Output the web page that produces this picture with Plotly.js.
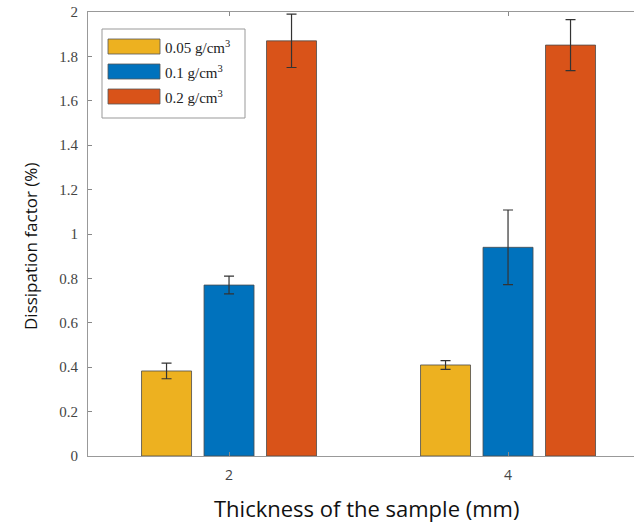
<!DOCTYPE html>
<html>
<head>
<meta charset="utf-8">
<script src="https://cdn.plot.ly/plotly-3.0.1.min.js"></script>
<style>html,body{margin:0;padding:0;background:#fff;}#chart{width:634px;height:522px;}</style>
</head>
<body>
<div id="chart"></div>
<script>
var thickness = [2, 4];
var seriesNames = ['0.05 g/cm<sup>3</sup>', '0.1 g/cm<sup>3</sup>', '0.2 g/cm<sup>3</sup>'];
var val005 = [0.383, 0.41];
var err005 = [0.035, 0.02];
var val01 = [0.77, 0.94];
var err01 = [0.04, 0.168];
var val02 = [1.87, 1.851];
var err02 = [0.12, 0.115];
var colors = ['#EDB120', '#0072BD', '#D95319'];
var xTitle = 'Thickness of the sample (mm)';
var yTitle = 'Dissipation factor (%)';

var vals = [val005, val01, val02];
var errs = [err005, err01, err02];
var traces = vals.map(function (v, i) {
  return {
    type: 'bar',
    name: seriesNames[i],
    x: thickness,
    y: v,
    showlegend: false,
    marker: {color: colors[i], line: {color: '#4a4a4a', width: 0.8}},
    error_y: {type: 'data', array: errs[i], visible: true, color: '#333', thickness: 1.2, width: 5}
  };
});

// custom legend (wide swatches, like the original)
var plotW = 546, plotH = 444, plotL = 88, plotB = 456;
function px(x) { return (x - plotL) / plotW; }
function py(y) { return (plotB - y) / plotH; }
var shapes = [{
  type: 'rect', xref: 'paper', yref: 'paper',
  x0: px(102), x1: px(245), y0: py(118), y1: py(29),
  fillcolor: '#fff', line: {color: '#999', width: 1}
}];
var annotations = [];
seriesNames.forEach(function (n, i) {
  var top = 39 + 25 * i;
  shapes.push({
    type: 'rect', xref: 'paper', yref: 'paper',
    x0: px(108), x1: px(160), y0: py(top + 15), y1: py(top),
    fillcolor: colors[i], line: {color: '#555', width: 0.8}
  });
  annotations.push({
    xref: 'paper', yref: 'paper', x: px(163), y: py(top + 7.5),
    xanchor: 'left', yanchor: 'middle', showarrow: false,
    text: n, font: {family: 'Liberation Serif', size: 15, color: '#222'}
  });
});
// axis titles
annotations.push({
  xref: 'paper', yref: 'paper', x: px(366), y: py(508),
  xanchor: 'center', yanchor: 'middle', showarrow: false,
  text: xTitle, font: {family: 'Open Sans', size: 22, color: '#111'}
});
annotations.push({
  xref: 'paper', yref: 'paper', x: px(30), y: py(247),
  xanchor: 'center', yanchor: 'middle', showarrow: false, textangle: -90,
  text: yTitle, font: {family: 'Open Sans', size: 17, color: '#111'}
});

var layout = {
  width: 634, height: 522,
  margin: {l: 88, r: 0, t: 12, b: 66},
  paper_bgcolor: '#fff', plot_bgcolor: '#fff',
  barmode: 'group',
  bargap: 0.328,
  bargroupgap: 0.2,
  showlegend: false,
  shapes: shapes,
  annotations: annotations,
  xaxis: {
    type: 'linear', range: [0.989, 4.903],
    tickvals: thickness, ticktext: thickness.map(String),
    ticks: 'inside', ticklen: 4, tickcolor: '#888',
    ticklabelstandoff: 6,
    showline: true, linecolor: '#999', linewidth: 1, mirror: 'ticks',
    showgrid: false, zeroline: false,
    tickfont: {family: 'Open Sans', size: 14, color: '#444'}
  },
  yaxis: {
    range: [0, 2],
    tickvals: [0, 0.2, 0.4, 0.6, 0.8, 1, 1.2, 1.4, 1.6, 1.8, 2],
    ticktext: ['0', '0.2', '0.4', '0.6', '0.8', '1', '1.2', '1.4', '1.6', '1.8', '2'],
    ticks: 'inside', ticklen: 4, tickcolor: '#888',
    ticklabelstandoff: 6,
    showline: true, linecolor: '#999', linewidth: 1,
    showgrid: false, zeroline: false,
    tickfont: {family: 'Liberation Serif', size: 15, color: '#444'}
  }
};

Plotly.newPlot('chart', traces, layout, {displayModeBar: false, staticPlot: true});
</script>
</body>
</html>
